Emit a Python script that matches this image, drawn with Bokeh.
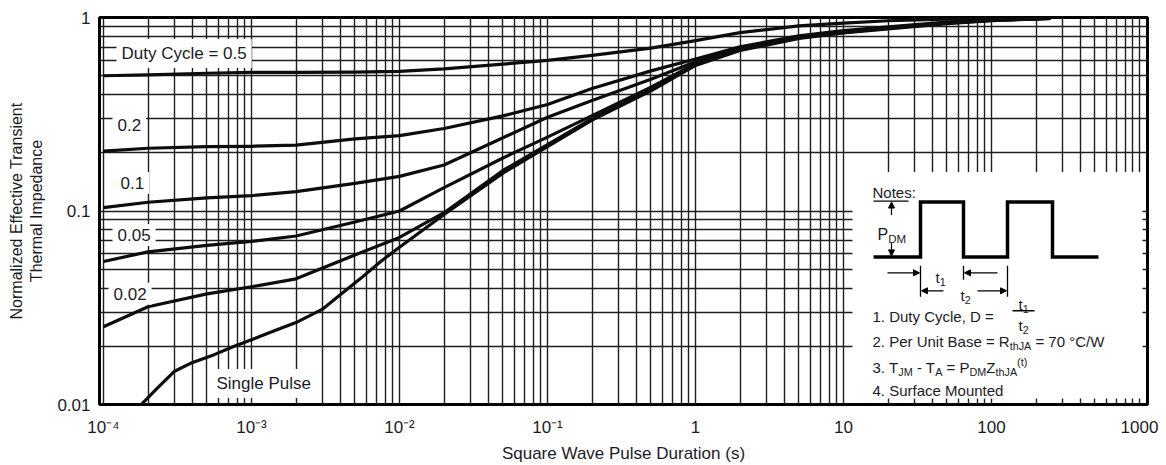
import math

from bokeh.embed import file_html
from bokeh.models import Arrow, FixedTicker, Label, NormalHead, Range1d
from bokeh.plotting import figure
from bokeh.resources import INLINE

# ---------------------------------------------------------------------------
# Transient thermal impedance data (pulse duration in s, normalized Zth)
# ---------------------------------------------------------------------------
t_duty = [1e-4, 2e-4, 5e-4, 1e-3, 2e-3, 5e-3, 1e-2, 2e-2, 5e-2, 0.1,
          0.2, 0.5, 1, 2, 5, 10, 20, 50, 100, 250]

z_d050 = [0.500, 0.505, 0.515, 0.520, 0.520, 0.522, 0.527, 0.543, 0.574, 0.600,
          0.637, 0.695, 0.760, 0.835, 0.905, 0.935, 0.962, 0.980, 0.988, 0.995]
z_d020 = [0.204, 0.211, 0.215, 0.216, 0.219, 0.236, 0.245, 0.267, 0.310, 0.355,
          0.430, 0.530, 0.610, 0.705, 0.805, 0.855, 0.895, 0.948, 0.972, 0.992]
z_d010 = [0.104, 0.111, 0.117, 0.120, 0.126, 0.139, 0.151, 0.173, 0.239, 0.305,
          0.372, 0.479, 0.590, 0.695, 0.795, 0.848, 0.885, 0.942, 0.970, 0.990]
z_d005 = [0.0548, 0.0615, 0.0664, 0.0697, 0.0743, 0.0877, 0.100, 0.132, 0.188, 0.241,
          0.311, 0.437, 0.578, 0.688, 0.790, 0.843, 0.880, 0.938, 0.968, 0.990]
z_d002 = [0.0252, 0.0320, 0.0373, 0.0406, 0.0446, 0.0593, 0.0730, 0.098, 0.162, 0.220,
          0.300, 0.425, 0.572, 0.682, 0.785, 0.838, 0.877, 0.934, 0.966, 0.990]

t_single = [1.8e-4, 2.25e-4, 3e-4, 4e-4, 5.6e-4, 7.5e-4, 1e-3, 1.5e-3, 2e-3, 3e-3,
            4e-3, 5.5e-3, 7.5e-3, 1e-2, 2e-2, 5e-2, 0.1, 0.2, 0.5, 1,
            2, 5, 10, 20, 50, 100, 250]
z_single = [0.0100, 0.0119, 0.0148, 0.0165, 0.0181, 0.0199, 0.0216, 0.0244, 0.0265, 0.0310,
            0.0370, 0.0450, 0.0550, 0.0650, 0.0960, 0.157, 0.215, 0.295, 0.418, 0.565,
            0.675, 0.780, 0.833, 0.873, 0.930, 0.964, 0.988]

curve_labels = ["Duty Cycle = 0.5", "0.2", "0.1", "0.05", "0.02", "Single Pulse"]

x_ticks = [1e-4, 1e-3, 1e-2, 1e-1, 1, 10, 100, 1000]
x_tick_labels = ["10\u207b\u2074", "10\u207b\u00b3", "10\u207b\u00b2", "10\u207b\u00b9",
                 "1", "10", "100", "1000"]
y_ticks = [0.01, 0.1, 1]
y_tick_labels = ["0.01", "0.1", "1"]

# ---------------------------------------------------------------------------
# Layout
# ---------------------------------------------------------------------------
W, H = 1166, 465
LEFT, RIGHT, TOP, BOTTOM = 99, 1147, 17, 405      # frame edges (px)
X0, X1 = 9.4e-5, 1132.0                           # x range (s)
Y0, Y1 = 0.01, 1.0

FONT = "Liberation Sans"
INK = "#1b1b26"
GRID = "#1e1e1e"


def dx(px):
    """Screen x (px) -> data x."""
    a, b = math.log10(X0), math.log10(X1)
    return 10 ** (a + (px - LEFT) / (RIGHT - LEFT) * (b - a))


def dy(py):
    """Screen y (px, from top) -> data y."""
    a, b = math.log10(Y0), math.log10(Y1)
    return 10 ** (b - (py - TOP) / (BOTTOM - TOP) * (b - a))


p = figure(width=W, height=H, x_axis_type="log", y_axis_type="log",
           x_range=Range1d(X0, X1), y_range=Range1d(Y0, Y1),
           output_backend="svg", toolbar_location=None,
           min_border_left=LEFT, min_border_right=W - RIGHT,
           min_border_top=TOP, min_border_bottom=H - BOTTOM)
p.background_fill_color = "white"
p.border_fill_color = "white"
p.outline_line_color = "#000000"
p.outline_line_width = 3

x_minor = [m * 10.0 ** e for e in range(-4, 3) for m in range(2, 10)]
y_minor = [m * 10.0 ** e for e in range(-2, 0) for m in range(2, 10)]
p.xaxis.ticker = FixedTicker(ticks=x_ticks, minor_ticks=x_minor)
p.yaxis.ticker = FixedTicker(ticks=y_ticks, minor_ticks=y_minor)
p.xaxis.major_label_overrides = dict(zip(x_ticks, x_tick_labels))
p.yaxis.major_label_overrides = dict(zip(y_ticks, y_tick_labels))

for ax in (p.xaxis, p.yaxis):
    ax.axis_line_color = None
    ax.major_tick_line_color = None
    ax.minor_tick_line_color = None
    ax.major_tick_out = 0
    ax.major_tick_in = 0
    ax.minor_tick_out = 0
    ax.minor_tick_in = 0
    ax.major_label_text_font = FONT
    ax.major_label_text_font_size = "17px"
    ax.major_label_text_color = INK
    ax.axis_label_text_font = FONT
    ax.axis_label_text_font_style = "normal"
    ax.axis_label_text_color = INK

p.xaxis.axis_label = "Square Wave Pulse Duration (s)"
p.xaxis.axis_label_text_font_size = "17px"
p.xaxis.major_label_standoff = 13
p.xaxis.axis_label_standoff = 4
p.yaxis.axis_label = "Normalized Effective Transient\nThermal Impedance"
p.yaxis.axis_label_text_font_size = "16px"
p.yaxis.major_label_standoff = 9
p.yaxis.axis_label_standoff = 9

for g in (p.xgrid, p.ygrid):
    g.grid_line_color = GRID
    g.grid_line_width = 1.4
    g.minor_grid_line_color = GRID
    g.minor_grid_line_width = 1.4

# ---------------------------------------------------------------------------
# Curves
# ---------------------------------------------------------------------------
for z in (z_d050, z_d020, z_d010, z_d005, z_d002):
    p.line(t_duty, z, line_width=3.2, line_color="#0d0d0d", line_join="round")
p.line(t_single, z_single, line_width=3.2, line_color="#0d0d0d", line_join="round")

# curve captions on white patches
caption_pos = [(116, 53), (112, 125), (115, 183), (112, 235), (108, 294), (211, 384)]
for txt, (px, py) in zip(curve_labels, caption_pos):
    p.add_layout(Label(x=dx(px), y=dy(py), text=txt, text_align="left",
                       text_baseline="middle", text_font=FONT, text_font_size="17px",
                       text_color=INK, background_fill_color="white", padding=5))

# ---------------------------------------------------------------------------
# Notes panel
# ---------------------------------------------------------------------------
p.quad(left=[dx(852)], right=[dx(1142)], top=[dy(172)], bottom=[dy(399)],
       fill_color="white", line_color=None)

ARIAL = {" ": 278, ".": 278, ",": 278, ":": 278, "-": 333, "=": 584, "(": 333, ")": 333,
         "/": 278, "\u00b0": 400, "A": 667, "B": 667, "C": 722, "D": 722, "J": 500,
         "M": 833, "N": 722, "P": 667, "R": 722, "S": 667, "T": 611, "U": 722,
         "W": 944, "Z": 611, "a": 556, "b": 556, "c": 500, "d": 556, "e": 556,
         "f": 278, "h": 556, "i": 222, "l": 222, "n": 556, "o": 556, "r": 333,
         "s": 500, "t": 278, "u": 556, "y": 500}


def text_width(s, size):
    return sum(ARIAL.get(c, 556) for c in s) * size / 1000.0


def rich(x0, base, parts, size=15.0):
    """Write a run of normal / subscript / superscript pieces from x0 on a baseline."""
    x = x0
    for txt, kind in parts:
        if kind == "n":
            fs, off = size, 0
        elif kind == "sub":
            fs, off = size * 0.72, 4
        else:
            fs, off = size * 0.72, -6
        lead = len(txt) - len(txt.lstrip(" "))
        x += text_width(" " * lead, fs)
        body = txt.lstrip(" ")
        p.add_layout(Label(x=dx(x), y=dy(base + off), text=body, text_align="left",
                           text_baseline="alphabetic", text_font=FONT,
                           text_font_size=f"{fs:.1f}px", text_color=INK))
        x += text_width(body, fs)


rich(872, 192, [("Notes:", "n")])
rich(872, 317, [("1. Duty Cycle, D =", "n")])
rich(1018, 305, [("t", "n"), ("1", "sub")])
rich(1018, 326, [("t", "n"), ("2", "sub")])
rich(872, 342, [("2. Per Unit Base = R", "n"), ("thJA", "sub"), (" = 70 \u00b0C/W", "n")])
rich(872, 368, [("3. T", "n"), ("JM", "sub"), (" - T", "n"), ("A", "sub"), (" = P", "n"),
                ("DM", "sub"), ("Z", "n"), ("thJA", "sub"), ("(t)", "sup")])
rich(872, 391, [("4. Surface Mounted", "n")])
rich(877, 235, [("P", "n"), ("DM", "sub")], size=16)
rich(935, 278, [("t", "n"), ("1", "sub")])
rich(960, 296, [("t", "n"), ("2", "sub")])

# square-wave sketch
wave_x = [873, 920, 920, 963, 963, 1007, 1007, 1052, 1052, 1098]
wave_y = [257, 257, 202, 202, 257, 257, 202, 202, 257, 257]
p.line([dx(v) for v in wave_x], [dy(v) for v in wave_y], line_width=3.5,
       line_color="#000000", line_join="miter")

# dimension lines
seg = [((873, 201), (908, 201)), ((920, 266), (920, 297)), ((963, 266), (963, 280)),
       ((1007, 266), (1007, 297)), ((1012, 311), (1034, 311))]
p.segment(x0=[dx(a[0]) for a, b in seg], y0=[dy(a[1]) for a, b in seg],
          x1=[dx(b[0]) for a, b in seg], y1=[dy(b[1]) for a, b in seg],
          line_width=1.3, line_color="#000000")

arrows = [((891, 215), (891, 202)), ((891, 243), (891, 256)),
          ((887, 273), (919, 273)), ((997, 273), (964, 273)),
          ((943, 291), (921, 291)), ((977, 291), (1006, 291))]
for (ax0, ay0), (ax1, ay1) in arrows:
    p.add_layout(Arrow(x_start=dx(ax0), y_start=dy(ay0), x_end=dx(ax1), y_end=dy(ay1),
                       line_width=1.2, line_color="#000000",
                       end=NormalHead(size=6, fill_color="#000000", line_color="#000000",
                                      line_width=1)))

open("out.html", "w").write(file_html(p, INLINE))
